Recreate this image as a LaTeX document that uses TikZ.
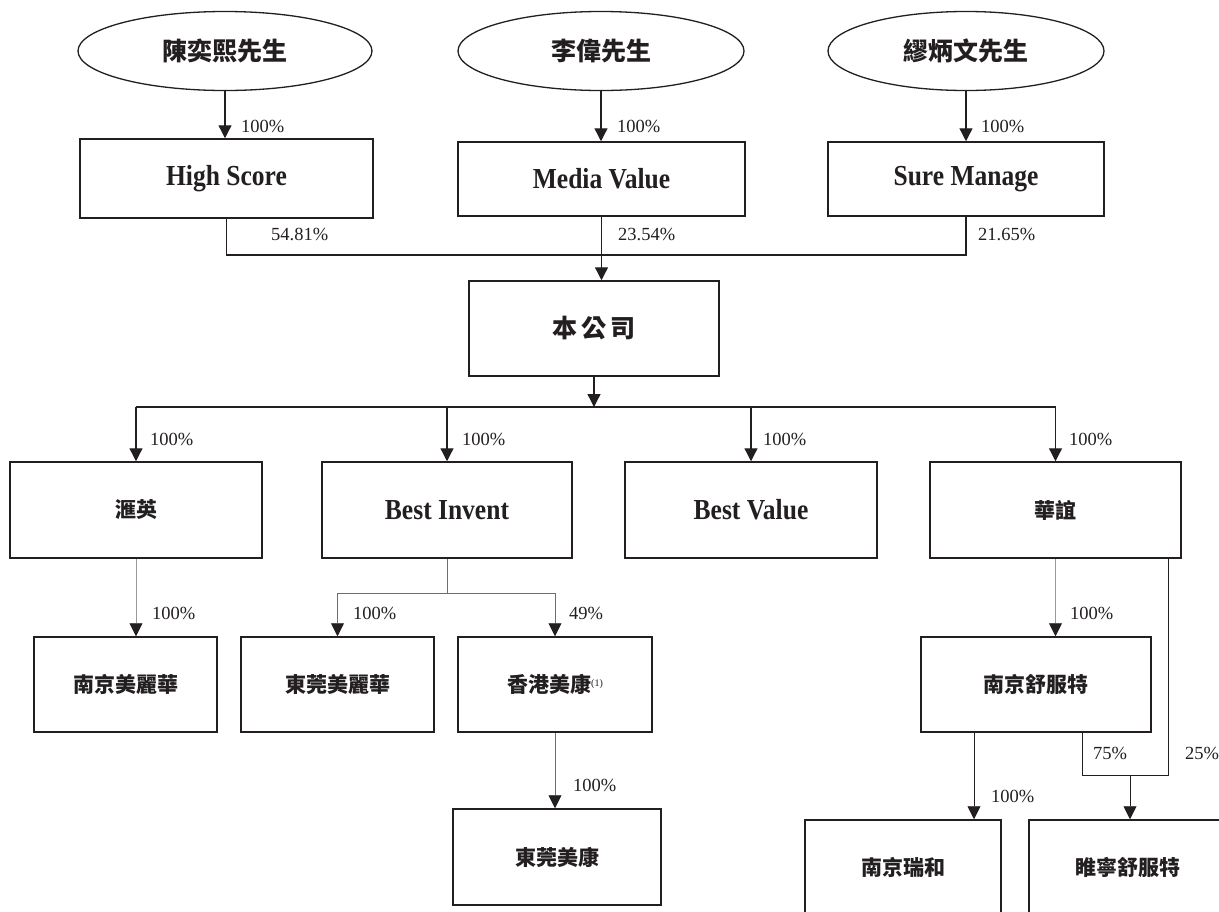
\documentclass[tikz,border=0pt]{standalone}
\usepackage{fontspec}
\setmainfont{Liberation Serif}
\newfontfamily\enb{Liberation Serif}[FakeStretch=0.88]
\newfontfamily\cjk{Noto Sans CJK TC}
\usetikzlibrary{arrows.meta,shapes.geometric}
\definecolor{dk}{HTML}{231F20}
\definecolor{lg}{HTML}{9A9A9A}
\definecolor{mg}{HTML}{6E6E6E}
\begin{document}
\begin{tikzpicture}[x=1pt,y=-1pt,
  ell/.style={ellipse, draw=dk, line width=1.3pt, inner sep=0pt},
  box/.style={rectangle, draw=dk, line width=1.5pt, inner sep=0pt},
  en/.style={font=\fontsize{29}{32}\enb\bfseries, text=dk},
  zhbig/.style={font=\fontsize{25}{28}\cjk\bfseries, text=dk},
  zh/.style={font=\fontsize{21}{24}\cjk\bfseries, text=dk},
  pct/.style={font=\fontsize{18.5}{20}\selectfont, anchor=west, inner sep=0pt, text=dk},
  tip/.style={-{Triangle[length=13pt,width=13pt,color=dk]}},
  ln/.style={line width=1.3pt, draw=dk},
  arr/.style={ln, tip},
  gl/.style={line width=0.9pt, draw=lg},
  garr/.style={gl, tip},
  ml/.style={line width=0.9pt, draw=mg},
  marr/.style={ml, tip},
  dl/.style={line width=0.9pt, draw=dk},
  darr/.style={dl, tip}]
\useasboundingbox[fill=white] (0,0) rectangle (1219,911);

% top owners
\node[ell, minimum width=294, minimum height=79, zhbig] (p1) at (225,51) {陳奕熙先生};
\node[ell, minimum width=286, minimum height=79, zhbig] (p2) at (601,51) {李偉先生};
\node[ell, minimum width=276, minimum height=79, zhbig] (p3) at (966,51) {繆炳文先生};

\node[box, minimum width=293, minimum height=79, en] (hs) at (226.5,178.5) {High Score};
\node[box, minimum width=287, minimum height=74, en] (mv) at (601.5,179) {Media Value};
\node[box, minimum width=276, minimum height=74, en] (sm) at (966,179) {Sure Manage};

\node[box, minimum width=250, minimum height=95, zhbig] (co) at (594,328.5) {本\,公\,司};

% second row
\node[box, minimum width=252, minimum height=96, zh] (c1) at (136,510) {滙英};
\node[box, minimum width=250, minimum height=96, en] (c2) at (447,510) {Best Invent};
\node[box, minimum width=252, minimum height=96, en] (c3) at (751,510) {Best Value};
\node[box, minimum width=251, minimum height=96, zh] (c4) at (1055.5,510) {華誼};

% third row
\node[box, minimum width=183, minimum height=95, zh] (nm) at (125.5,684.5) {南京美麗華};
\node[box, minimum width=193, minimum height=95, zh] (dm) at (337.5,684.5) {東莞美麗華};
\node[box, minimum width=194, minimum height=95, zh] (hk) at (555,684.5) {香港美康{\rmfamily\mdseries\fontsize{10}{11}\selectfont\raisebox{6pt}{(1)}}};
\node[box, minimum width=230, minimum height=95, zh] (ns) at (1036,684.5) {南京舒服特};

% fourth row
\node[box, minimum width=208, minimum height=96, zh] (dk2) at (557,857) {東莞美康};
\node[box, minimum width=196, minimum height=95, zh] (nr) at (903,867.5) {南京瑞和};
\node[box, minimum width=198, minimum height=95, zh] (sn) at (1128,867.5) {睢寧舒服特};

% helper coordinates
\coordinate (m1) at (601.6,255);
\coordinate (bus) at (0,407);
\coordinate (bi) at (0,593);
\coordinate (r1) at (1168,775);
\coordinate (r2) at (1082,775);
\coordinate (r3) at (1130,775);
\coordinate (r4) at (974,732);

% owners to holding companies
\draw[arr] (p1.south) -- (p1.south |- hs.north);
\draw[arr] (p2.south) -- (p2.south |- mv.north);
\draw[arr] (p3.south) -- (p3.south |- sm.north);

% holding companies to company
\draw[ln] (hs.south) -- (hs.south |- m1) -- (sm.south |- m1) -- (sm.south);
\draw[arr] (mv.south) -- (mv.south |- co.north);

% company to subsidiaries
\draw[arr] (co.south) -- (co.south |- bus);
\draw[ln] (c1.north |- bus) -- (c4.north |- bus);
\draw[arr] (c1.north |- bus) -- (c1.north);
\draw[arr] (c2.north |- bus) -- (c2.north);
\draw[arr] (c3.north |- bus) -- (c3.north);
\draw[arr] (c4.north |- bus) -- (c4.north);

% third level
\draw[garr] (c1.south) -- (c1.south |- nm.north);
\draw[ml] (c2.south) -- (c2.south |- bi);
\draw[ml] (dm.north |- bi) -- (hk.north |- bi);
\draw[marr] (dm.north |- bi) -- (dm.north);
\draw[marr] (hk.north |- bi) -- (hk.north);
\draw[marr] (hk.south) -- (hk.south |- dk2.north);
\draw[garr] (c4.south) -- (c4.south |- ns.north);
\draw[dl] (c4.south -| r1) -- (r1) -- (r2) -- (r2 |- ns.south);
\draw[darr] (r3) -- (r3 |- sn.north);
\draw[darr] (r4) -- (r4 |- nr.north);

% percentages
\node[pct] (l1) at (241,126) {100\%};
\node[pct] (l2) at (617,126) {100\%};
\node[pct] (l3) at (981,126) {100\%};
\node[pct] (l4) at (271,234) {54.81\%};
\node[pct] (l5) at (618,234) {23.54\%};
\node[pct] (l6) at (978,234) {21.65\%};
\node[pct] (l7) at (150,439) {100\%};
\node[pct] (l8) at (462,439) {100\%};
\node[pct] (l9) at (763,439) {100\%};
\node[pct] (l10) at (1069,439) {100\%};
\node[pct] (l11) at (152,613) {100\%};
\node[pct] (l12) at (353,613) {100\%};
\node[pct] (l13) at (569,613) {49\%};
\node[pct] (l14) at (1070,613) {100\%};
\node[pct] (l15) at (573,785) {100\%};
\node[pct] (l16) at (1093,753) {75\%};
\node[pct] (l17) at (1185,753) {25\%};
\node[pct] (l18) at (991,796) {100\%};
\end{tikzpicture}
\end{document}
